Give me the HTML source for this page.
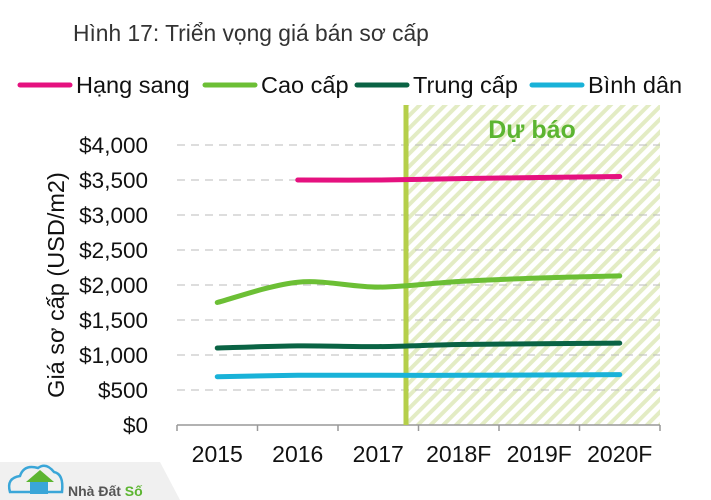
<!DOCTYPE html>
<html><head><meta charset="utf-8"><style>
body{margin:0;background:#fff;}
svg{display:block;font-family:"Liberation Sans",Arial,sans-serif;}
</style></head><body>
<svg id="c" width="711" height="500">
<defs>
<pattern id="hatch" patternUnits="userSpaceOnUse" width="9" height="9" patternTransform="rotate(45)">
<rect width="9" height="9" fill="#fff"/><rect width="4" height="9" fill="#e3ecc4"/>
</pattern>
</defs>
<text x="73" y="41" font-size="22.8" fill="#333">Hình 17: Triển vọng giá bán sơ cấp</text>
<g id="legend"></g>
<rect x="406" y="105" width="254" height="320" fill="url(#hatch)"/>
<g id="grid"></g>
<line x1="406" y1="105" x2="406" y2="425" stroke="#b5cf4a" stroke-width="5"/>
<text x="532" y="138" font-size="25" font-weight="bold" fill="#5cb531" text-anchor="middle">Dự báo</text>
<g id="series"></g>
<text transform="translate(64,285) rotate(-90)" font-size="23.5" fill="#111" text-anchor="middle">Giá sơ cấp (USD/m2)</text>
<g>
<polygon points="0,462 160,462 180,500 0,500" fill="#f0f0f0"/>
<path d="M10,492 q-4,-14 10,-16 q4,-12 18,-8 q8,-6 16,4 q10,2 8,20 z" fill="none" stroke="#3aa6d8" stroke-width="2.5"/>
<polygon points="26,482 40,470 54,482" fill="#5cb531"/>
<rect x="30" y="482" width="18" height="12" fill="#3aa6d8"/>
<text x="68" y="496" font-size="14" font-weight="bold" fill="#555">Nhà Đất <tspan fill="#5cb531">Số</tspan></text>
</g>
</svg>
<script>
const categories=["2015","2016","2017","2018F","2019F","2020F"];
const yTicks=[0,500,1000,1500,2000,2500,3000,3500,4000];
const yTickLabels=["$0","$500","$1,000","$1,500","$2,000","$2,500","$3,000","$3,500","$4,000"];
const seriesNames=["Hạng sang","Cao cấp","Trung cấp","Bình dân"];
const hangSang=[null,3500,3500,3520,3535,3550];
const caoCap=[1750,2040,1970,2050,2100,2130];
const trungCap=[1100,1130,1120,1150,1160,1170];
const binhDan=[690,710,710,710,715,720];
const colors=["#e5117f","#6cbf35","#0a6344","#19b2d8"];
const NS="http://www.w3.org/2000/svg";
const x0=177,x1=660,yB=425,yT=145;
const bw=(x1-x0)/categories.length;
const xs=i=>x0+bw*(i+0.5);
const ys=v=>yB-(v/4000)*(yB-yT);
function mk(t,a,p){const e=document.createElementNS(NS,t);for(const k in a)e.setAttribute(k,a[k]);p.appendChild(e);return e;}
const grid=document.getElementById('grid');
yTicks.forEach((v,i)=>{
 if(v>0){const l=mk('line',{x1:x0,x2:x1,y1:ys(v),y2:ys(v),stroke:'#bbb','stroke-dasharray':'8,6','stroke-width':1},grid);
 
 }
 const t=mk('text',{x:148,y:ys(v)+8,'font-size':22.5,'text-anchor':'end',fill:'#111'},grid);t.textContent=yTickLabels[i];
 
 
});
const ax=mk('line',{x1:x0,x2:x1,y1:yB,y2:yB,stroke:'#999','stroke-width':1.5},grid);


for(let i=0;i<=categories.length;i++){mk('line',{x1:x0+bw*i,x2:x0+bw*i,y1:yB,y2:yB+6,stroke:'#999','stroke-width':1.5},grid);}
categories.forEach((c,i)=>{const t=mk('text',{x:xs(i),y:yB+37,'font-size':23,'text-anchor':'middle',fill:'#111'},grid);t.textContent=c;
 
 });
function smooth(pts){let d=`M${pts[0][0]},${pts[0][1]}`;
 for(let i=0;i<pts.length-1;i++){const p0=pts[i-1]||pts[i],p1=pts[i],p2=pts[i+1],p3=pts[i+2]||p2;
 const c1=[p1[0]+(p2[0]-p0[0])/6,p1[1]+(p2[1]-p0[1])/6],c2=[p2[0]-(p3[0]-p1[0])/6,p2[1]-(p3[1]-p1[1])/6];
 d+=` C${c1[0]},${c1[1]} ${c2[0]},${c2[1]} ${p2[0]},${p2[1]}`;}return d;}
const sg=document.getElementById('series');
const keys=["hang-sang","cao-cap","trung-cap","binh-dan"];
[hangSang,caoCap,trungCap,binhDan].forEach((arr,s)=>{
 const pts=[];arr.forEach((v,i)=>{if(v!=null)pts.push([xs(i),ys(v)]);});
 const p=mk('path',{d:smooth(pts),fill:'none',stroke:colors[s],'stroke-width':5,'stroke-linecap':'round'},sg);
 
 
});
const lg=document.getElementById('legend');
const lx=[20,205,357,532];
seriesNames.forEach((n,i)=>{
 const g=mk('g',{},lg);
 
 
 mk('line',{x1:lx[i],x2:lx[i]+50,y1:85,y2:85,stroke:colors[i],'stroke-width':5,'stroke-linecap':'round'},g);
 const t=mk('text',{x:lx[i]+56,y:93,'font-size':23.5,fill:'#111'},g);t.textContent=n;
});
</script>
</body></html>
